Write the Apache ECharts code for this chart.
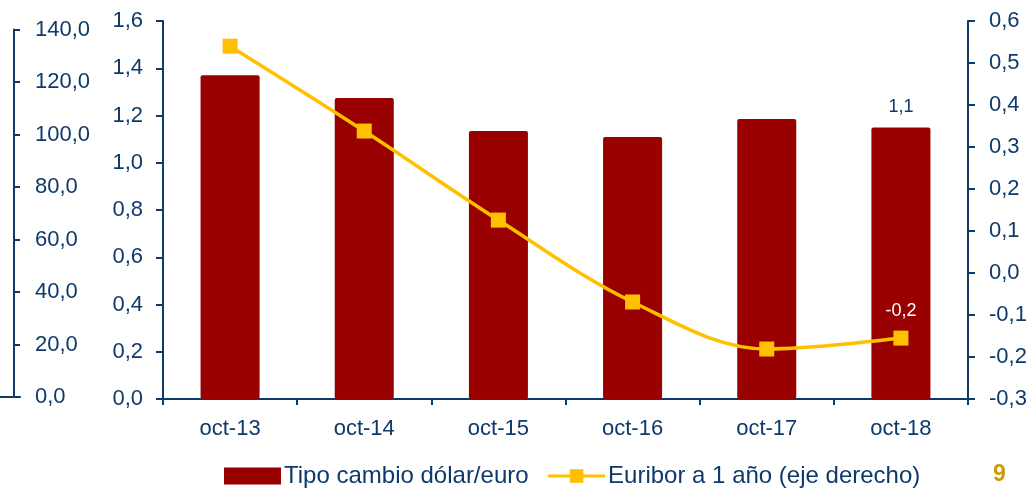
<!DOCTYPE html>
<html><head><meta charset="utf-8">
<script src="https://cdn.jsdelivr.net/npm/echarts@6/dist/echarts.min.js"></script>
<style>html,body{margin:0;padding:0;background:#fff}#c{width:1032px;height:490px}</style>
</head><body><div id="c"></div>
<script>
const categories = ['oct-13','oct-14','oct-15','oct-16','oct-17','oct-18'];
const tipoCambio = [1.37, 1.274, 1.134, 1.109, 1.185, 1.149];
const euribor = [0.540, 0.338, 0.126, -0.069, -0.181, -0.155];
const outerAxisRange = [0, 140, 20];
const leftAxisRange = [0, 1.6, 0.2];
const rightAxisRange = [-0.3, 0.6, 0.1];
const pageNumber = '9';

const NAVY = '#0E3A6B';
const FONT = 'Liberation Sans';
const fmt = v => Number(v).toFixed(1).replace('.', ',');
const chart = echarts.init(document.getElementById('c'), null, {renderer:'canvas'});
const axisLine = {show:true, lineStyle:{color:NAVY, width:2}};
const lbl = {color:NAVY, fontSize:22, fontFamily:FONT, formatter: fmt};
chart.setOption({
  animation:false,
  textStyle:{fontFamily:FONT},
  grid:[
    {left:163, right:64, top:21, bottom:91, outerBoundsMode:'none', containLabel:false},
    {left:0, width:20, top:29.5, bottom:93, outerBoundsMode:'none', containLabel:false}
  ],
  legend:{
    left:219, top:459, itemWidth:57, itemHeight:17, itemGap:18,
    textStyle:{color:NAVY, fontSize:24, fontFamily:FONT, padding:[0,0,0,-2]},
    data:[{name:'Tipo cambio dólar/euro', icon:'rect'},
          {name:'Euribor a 1 año (eje derecho)', lineStyle:{width:3, color:'#FFC000'}}]
  },
  xAxis:[
    {type:'category', data:categories, gridIndex:0,
     axisLine:axisLine, axisTick:{show:true, length:6, lineStyle:{color:NAVY, width:2}},
     axisLabel:{color:NAVY, fontSize:22, fontFamily:FONT, margin:19}},
    {type:'value', gridIndex:1, axisLine:{show:true, onZero:false, lineStyle:{color:NAVY, width:2}},
     axisTick:{show:false}, axisLabel:{show:false}, splitLine:{show:false}}
  ],
  yAxis:[
    {type:'value', gridIndex:0, position:'left', min:leftAxisRange[0], max:leftAxisRange[1], interval:leftAxisRange[2],
     axisLine:axisLine, axisTick:{show:true, length:7, lineStyle:{color:NAVY, width:2}},
     axisLabel:Object.assign({margin:20}, lbl), splitLine:{show:false}},
    {type:'value', gridIndex:0, position:'right', min:rightAxisRange[0], max:rightAxisRange[1], interval:rightAxisRange[2],
     axisLine:axisLine, axisTick:{show:true, length:7, lineStyle:{color:NAVY, width:2}},
     axisLabel:Object.assign({margin:21}, lbl), splitLine:{show:false}},
    {type:'value', gridIndex:1, position:'left', offset:-14, min:outerAxisRange[0], max:outerAxisRange[1], interval:outerAxisRange[2],
     axisLine:axisLine, axisTick:{show:true, inside:true, length:6, lineStyle:{color:NAVY, width:2}},
     axisLabel:Object.assign({margin:21, inside:true}, lbl), splitLine:{show:false}}
  ],
  series:[
    {name:'Tipo cambio dólar/euro', type:'bar', xAxisIndex:0, yAxisIndex:0, barWidth:'44%',
     itemStyle:{color:'#990000', borderRadius:2},
     data: tipoCambio.map((v,i)=> i===tipoCambio.length-1 ?
        {value:v, label:{show:true, position:'top', distance:12, color:NAVY, fontSize:18, fontFamily:FONT, formatter:p=>fmt(p.value)}} : v)},
    {name:'Euribor a 1 año (eje derecho)', type:'line', xAxisIndex:0, yAxisIndex:1, smooth:0.35,
     symbol:'rect', symbolSize:15, lineStyle:{color:'#FFC000', width:3.5}, itemStyle:{color:'#FFC000'},
     data: euribor.map((v,i)=> i===euribor.length-1 ?
        {value:v, label:{show:true, position:'top', distance:11, color:'#FFFFFF', fontSize:18, fontFamily:FONT, formatter:p=>fmt(p.value)}} : v)}
  ],
  graphic:[
    {type:'text', left:993, top:463, style:{text:pageNumber, fill:'#CC9A06', font:'bold 23px Liberation Sans'}}
  ]
});
</script></body></html>
